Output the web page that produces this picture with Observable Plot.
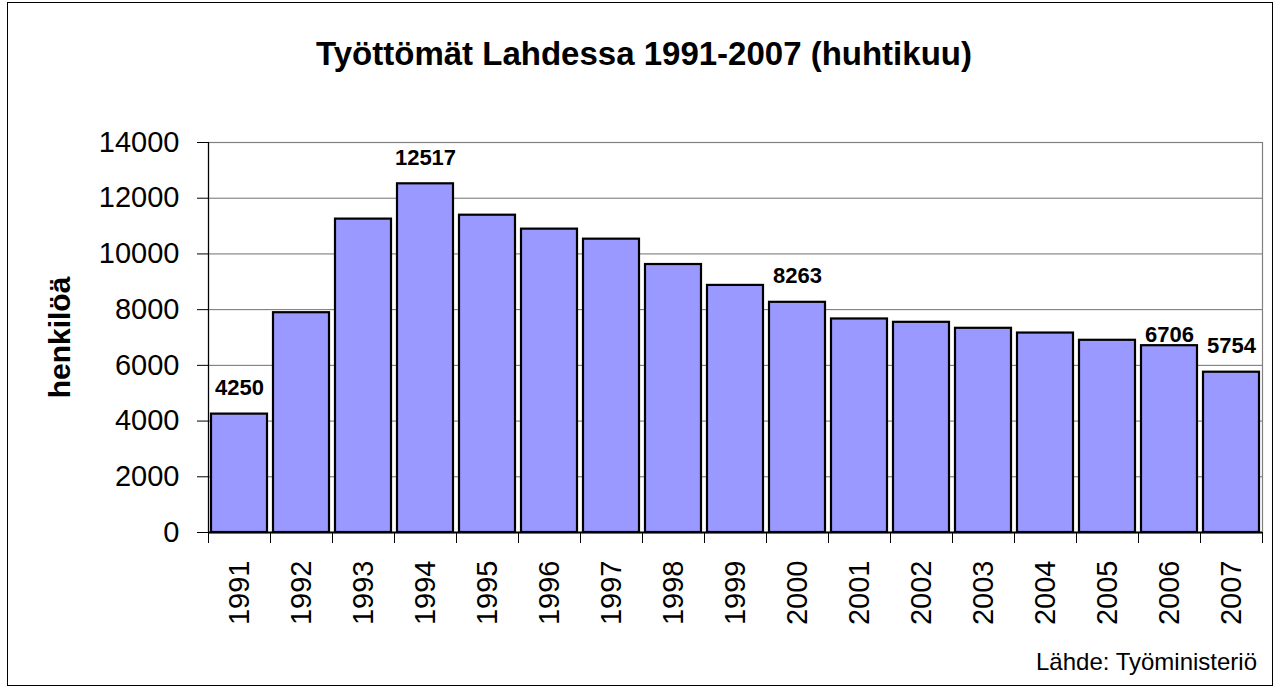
<!DOCTYPE html>
<html>
<head>
<meta charset="utf-8">
<script src="https://cdn.jsdelivr.net/npm/d3@7"></script>
<script src="https://cdn.jsdelivr.net/npm/@observablehq/plot@0.6"></script>
<style>
  html, body { margin: 0; padding: 0; background: #fff; }
  #wrap { position: relative; width: 1280px; height: 690px; overflow: hidden; font-family: "Liberation Sans", Arial, sans-serif; }
  #chart { position: absolute; left: 0; top: 0; }
  #border { position: absolute; left: 7px; top: 2px; width: 1266px; height: 684px; border: 1.5px solid #000; box-sizing: border-box; pointer-events: none; }
  #title { position: absolute; left: 0; width: 1288px; top: 34px; text-align: center; font-weight: bold; font-size: 33px; line-height: 40px; color: #000; }
  #caption { position: absolute; right: 23px; top: 647px; font-size: 24px; line-height: 30px; color: #000; }
</style>
</head>
<body>
<div id="wrap">
  <div id="chart"></div>
  <div id="border"></div>
  <div id="title">Työttömät Lahdessa 1991-2007 (huhtikuu)</div>
  <div id="caption">Lähde: Työministeriö</div>
</div>
<script>
const years = [1991, 1992, 1993, 1994, 1995, 1996, 1997, 1998, 1999, 2000, 2001, 2002, 2003, 2004, 2005, 2006, 2007];
const values = [4250, 7890, 11250, 12517, 11390, 10890, 10530, 9620, 8870, 8263, 7665, 7545, 7330, 7160, 6900, 6706, 5754];
const labeledYears = [1991, 1994, 2000, 2007];
const raisedLabelYears = [2006];
const yTicks = [0, 2000, 4000, 6000, 8000, 10000, 12000, 14000];
const yLabel = "henkilöä";

const data = years.map((y, i) => ({year: y, value: values[i]}));
const labelData = data.filter(d => labeledYears.includes(d.year));
const raisedData = data.filter(d => raisedLabelYears.includes(d.year));

const W = 1280, H = 690, mL = 208, mR = 18, mT = 142, mB = 158;
const step = (W - mL - mR) / years.length;

const chart = Plot.plot({
  width: W,
  height: H,
  marginLeft: mL,
  marginRight: mR,
  marginTop: mT,
  marginBottom: mB,
  style: {fontFamily: "'Liberation Sans', Arial, sans-serif", background: "transparent", color: "#000"},
  x: {type: "band", domain: years, paddingInner: 0.1, paddingOuter: 0.05, align: 0.5},
  y: {domain: [0, 14000], ticks: yTicks},
  marks: [
    Plot.gridY(yTicks, {stroke: "#707070", strokeOpacity: 1, strokeWidth: 1}),
    Plot.frame({stroke: "#808080", strokeWidth: 1.2}),
    Plot.barY(data, {x: "year", y: "value", fill: "#9999FF", stroke: "#000", strokeWidth: 2.2}),
    Plot.ruleY([0], {stroke: "#000", strokeWidth: 2}),
    Plot.frame({anchor: "left", stroke: "#000", strokeWidth: 1.2}),
    Plot.axisY({ticks: yTicks, tickSize: 11, tickPadding: 18, fontSize: 29, label: null, tickFormat: d => String(d)}),
    Plot.axisX({ticks: years, tickSize: 11, dx: -step / 2, tickFormat: () => "", label: null}),
    Plot.axisX({ticks: [years[years.length - 1]], tickSize: 11, dx: step / 2, tickFormat: () => "", label: null}),
    Plot.axisX({ticks: years, tickSize: 0, tickPadding: 28, tickRotate: -90, fontSize: 29, label: null, tickFormat: d => String(d)}),
    Plot.text(labelData, {x: "year", y: "value", text: d => String(d.value), dy: -19, lineAnchor: "bottom", fontSize: 22, fontWeight: "bold", fill: "#000"}),
    Plot.text(raisedData, {x: "year", y: "value", text: d => String(d.value), dy: -4, lineAnchor: "bottom", fontSize: 22, fontWeight: "bold", fill: "#000"}),
    Plot.text([yLabel], {frameAnchor: "left", dx: -148, rotate: -90, textAnchor: "middle", fontSize: 30, fontWeight: "bold", fill: "#000", text: d => d})
  ]
});
document.getElementById("chart").appendChild(chart);
</script>
</body>
</html>
